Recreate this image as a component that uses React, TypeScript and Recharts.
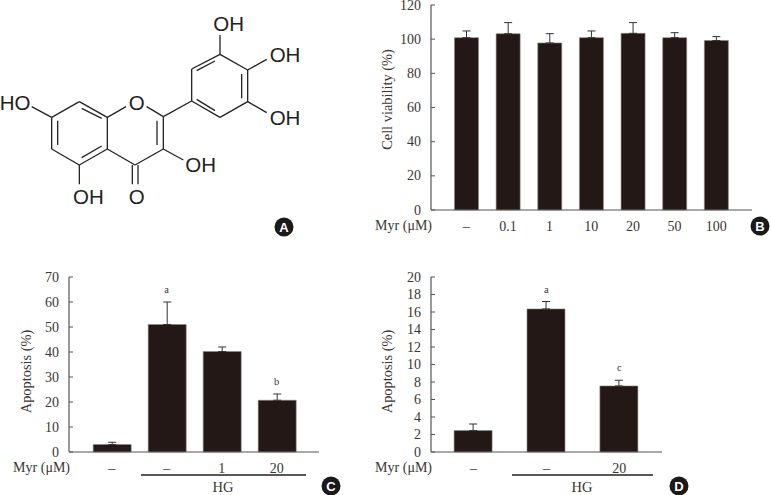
import React from "react";
import { ComposedChart, Bar, Line, XAxis, YAxis, ErrorBar, LabelList } from "recharts";

const viabilityLabels = ["–", "0.1", "1", "10", "20", "50", "100"];
const viabilityValues = [100.9, 103.2, 97.8, 100.9, 103.4, 100.9, 99.2];
const viabilityErrors = [3.9, 6.5, 5.4, 3.9, 6.3, 2.9, 2.3];
const viabilityTicks = [0, 20, 40, 60, 80, 100, 120];

const apoptosisCLabels = ["–", "– ", "1", "20"];
const apoptosisCValues = [3, 51, 40.2, 20.7];
const apoptosisCErrors = [0.9, 9, 1.8, 2.5];
const apoptosisCSig = ["", "a", "", "b"];
const apoptosisCTicks = [0, 10, 20, 30, 40, 50, 60, 70];

const apoptosisDLabels = ["–", "– ", "20"];
const apoptosisDValues = [2.45, 16.35, 7.55];
const apoptosisDErrors = [0.75, 0.85, 0.65];
const apoptosisDSig = ["", "a", "c"];
const apoptosisDTicks = [0, 2, 4, 6, 8, 10, 12, 14, 16, 18, 20];

const SERIF = "'Liberation Serif', serif";
const SANS = "'Liberation Sans', Arial, sans-serif";
const TEXT = "#3a3634";
const BAR = "#231815";

const build = (labels: string[], values: number[], errors: number[], sig?: string[]) =>
  labels.map((label, i) => ({
    label,
    value: values[i],
    err: [0, errors[i]],
    top: values[i] + errors[i],
    sig: sig ? sig[i] : "",
  }));

const YTick = (props: any) => {
  const { x, y, payload } = props;
  return (
    <g>
      <line x1={x + 10} x2={x + 14} y1={y} y2={y} stroke="#555" strokeWidth={1} />
      <text x={x} y={y} dy={4.6} textAnchor="end" fontFamily={SERIF} fontSize={14} fill={TEXT}>
        {payload.value}
      </text>
    </g>
  );
};

type PanelProps = {
  data: any[];
  left: number; top: number; width: number; height: number;
  axisW: number; mTop: number; mBottom: number; mRight: number;
  padL: number; padR: number; barW: number;
  ticks: number[]; title: string; titleDy: number; titleDx: number; tickMargin: number;
};

const Panel = ({ data, left, top, width, height, axisW, mTop, mBottom, mRight, padL, padR, barW, ticks, title, titleDy, titleDx, tickMargin }: PanelProps) => (
  <div style={{ position: "absolute", left, top, width, height }}>
    <ComposedChart width={width} height={height} data={data} margin={{ top: mTop, right: mRight, bottom: mBottom, left: 0 }}>
      <XAxis
        dataKey="label"
        interval={0}
        padding={{ left: padL, right: padR }}
        tickLine={false}
        tickMargin={tickMargin}
        height={30}
        axisLine={{ stroke: "#555", strokeWidth: 1.2 }}
        tick={{ fontFamily: SERIF, fontSize: 14, fill: TEXT }}
      />
      <YAxis
        width={axisW}
        domain={[ticks[0], ticks[ticks.length - 1]]}
        ticks={ticks}
        interval={0}
        tickLine={false}
        tickSize={0}
        tickMargin={10}
        axisLine={{ stroke: "#555", strokeWidth: 1.2 }}
        tick={<YTick />}
        label={{
          value: title,
          angle: -90,
          position: "insideLeft",
          dx: titleDx,
          dy: titleDy,
          style: { fontFamily: SERIF, fontSize: 14.4, fill: TEXT, textAnchor: "middle" },
        }}
      />
      <Bar dataKey="value" fill={BAR} stroke="#8a8684" strokeWidth={0.6} barSize={barW} isAnimationActive={false}>
        <ErrorBar dataKey="err" direction="y" width={4} stroke="#333" strokeWidth={1} isAnimationActive={false} />
      </Bar>
      <Line dataKey="top" stroke="none" dot={false} activeDot={false} isAnimationActive={false}>
        <LabelList dataKey="sig" position="top" offset={9} style={{ fontFamily: SERIF, fontSize: 10.5, fill: TEXT }} />
      </Line>
    </ComposedChart>
  </div>
);

const Badge = ({ x, y, t }: { x: number; y: number; t: string }) => (
  <g>
    <circle cx={x} cy={y} r={9.5} fill="#1c1a19" />
    <text x={x} y={y + 4.6} textAnchor="middle" fontFamily={SANS} fontWeight="bold" fontSize={13} fill="#fff">{t}</text>
  </g>
);

const bonds: number[][] = [
  [238,305,322,352],[322,352,322,447],[322,447,238,495],[238,495,155,447],[155,447,155,352],[155,352,238,305],
  [173,362,173,435],[245,325,305,355],[245,473,305,438],
  [322,352,378,320],[440,320,490,350],[490,350,490,447],[490,447,405,495],[405,495,322,447],[471,362,471,435],
  [397,495,397,553],[414,495,414,553],[490,447,550,480],[238,495,238,553],[155,352,95,320],
  [490,350,575,303],[575,303,575,207],[575,207,660,163],[660,163,743,210],[743,210,743,305],[743,305,660,352],[660,352,575,303],
  [590,212,645,183],[725,222,725,295],[590,298,645,332],
  [660,163,660,105],[743,210,800,178],[743,305,800,338],
];
const atoms: [string, number, number][] = [
  ["O", 410, 307],["O", 410, 590],["OH", 602, 495],["OH", 265, 590],["HO", 45, 307],["OH", 686, 72],["OH", 855, 165],["OH", 855, 352],
];

const Overlay = () => (
  <svg width={771} height={495} style={{ position: "absolute", left: 0, top: 0, pointerEvents: "none" }}>
    {bonds.map((b, i) => (
      <line key={i} x1={b[0] / 3} y1={b[1] / 3} x2={b[2] / 3} y2={b[3] / 3} stroke="#222" strokeWidth={1.3} />
    ))}
    {atoms.map(([t, x, y], i) => (
      <text key={i} x={x / 3} y={y / 3 + 7.3} textAnchor="middle" fontFamily={SANS} fontSize={20.5} fill="#222">{t}</text>
    ))}
    <Badge x={284} y={227} t="A" />
    <Badge x={760} y={226} t="B" />
    <Badge x={331} y={486} t="C" />
    <Badge x={679} y={486} t="D" />
    <g fontFamily={SERIF} fontSize={14} fill={TEXT}>
      <text x={432} y={230} textAnchor="end">Myr (μM)</text>
      <text x={70} y={471.5} textAnchor="end">Myr (μM)</text>
      <text x={432} y={471.5} textAnchor="end">Myr (μM)</text>
      <text x={223} y={492} textAnchor="middle" fontSize={14.5}>HG</text>
      <text x={582} y={492} textAnchor="middle" fontSize={14.5}>HG</text>
    </g>
    <line x1={141} x2={306} y1={475} y2={475} stroke="#222" strokeWidth={1.4} />
    <line x1={512} x2={653} y1={475} y2={475} stroke="#222" strokeWidth={1.4} />
  </svg>
);

export default function App() {
  return (
    <div style={{ position: "absolute", left: 0, top: 0, width: 771, height: 495, background: "#fff", overflow: "hidden" }}>
      <Panel data={build(viabilityLabels, viabilityValues, viabilityErrors)} left={370} top={0} width={401} height={250}
        axisW={61} mTop={5} mBottom={10} mRight={19} padL={14.5} padR={15} barW={24} ticks={viabilityTicks}
        title="Cell viability (%)" titleDx={12} titleDy={-8} tickMargin={5} />
      <Panel data={build(apoptosisCLabels, apoptosisCValues, apoptosisCErrors, apoptosisCSig)} left={0} top={270} width={385} height={225}
        axisW={69} mTop={7} mBottom={13} mRight={66} padL={15.2} padR={14.8} barW={38} ticks={apoptosisCTicks}
        title="Apoptosis (%)" titleDx={21} titleDy={7} tickMargin={5} />
      <Panel data={build(apoptosisDLabels, apoptosisDValues, apoptosisDErrors, apoptosisDSig)} left={370} top={270} width={401} height={225}
        axisW={61} mTop={7} mBottom={13} mRight={109} padL={6.1} padR={6.2} barW={38} ticks={apoptosisDTicks}
        title="Apoptosis (%)" titleDx={12} titleDy={7} tickMargin={5} />
      <Overlay />
    </div>
  );
}
